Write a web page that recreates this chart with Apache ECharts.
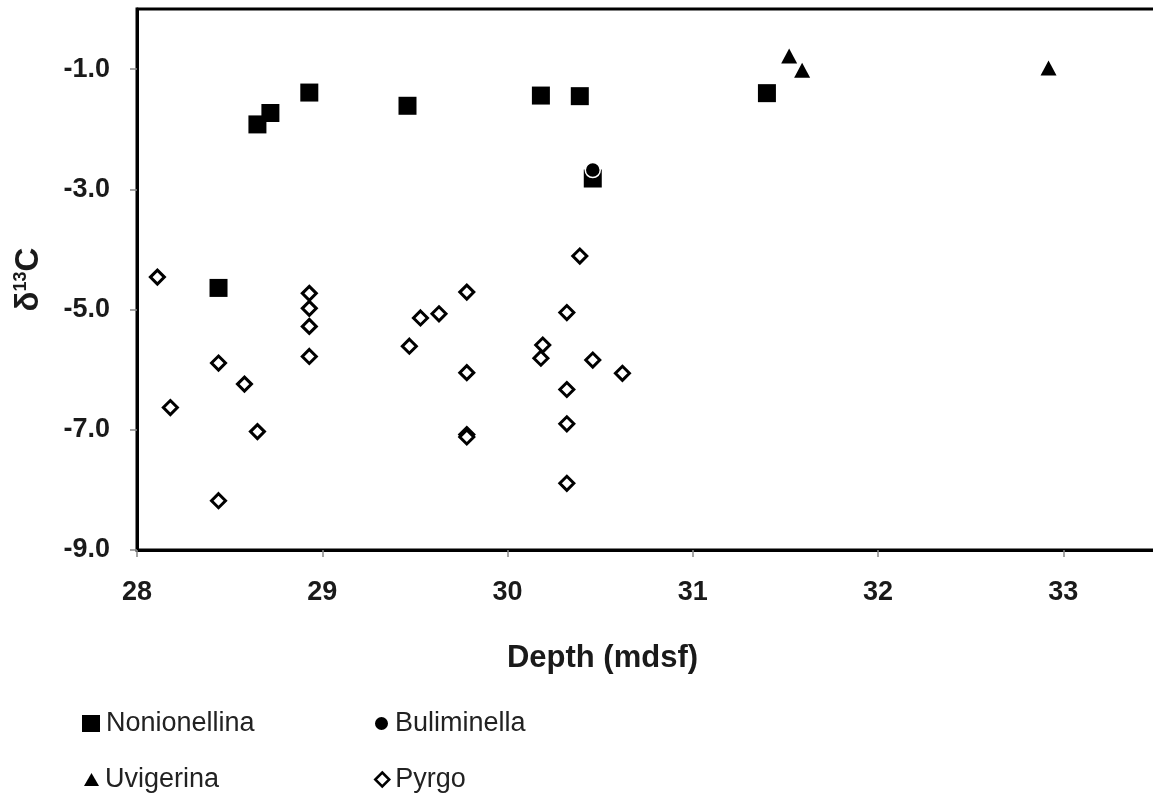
<!DOCTYPE html>
<html><head><meta charset="utf-8">
<script src="https://cdn.jsdelivr.net/npm/echarts@6/dist/echarts.min.js"></script>
<style>html,body{margin:0;padding:0;background:#fff}#c{width:1153px;height:797px}</style>
</head><body><div id="c"></div>
<script>
const xTicks = [28, 29, 30, 31, 32, 33];
const yTicks = [-9, -7, -5, -3, -1];
const seriesNames = ['Nonionellina', 'Buliminella', 'Uvigerina', 'Pyrgo'];

const nonionellinaDepth = [28.44, 28.65, 28.72, 28.93, 29.46, 30.18, 30.39, 30.46, 31.40];
const nonionellinaD13C  = [-4.64, -1.92, -1.73, -1.39, -1.61, -1.44, -1.45, -2.82, -1.40];

const buliminellaDepth = [30.46];
const buliminellaD13C  = [-2.68];

const uvigerinaDepth = [31.52, 31.59, 32.92];
const uvigerinaD13C  = [-0.78, -1.02, -0.98];

const pyrgoDepth = [28.11, 28.18, 28.44, 28.58, 28.65, 28.44, 28.93, 28.93, 28.93, 28.93,
                    29.47, 29.53, 29.63, 29.78, 29.78, 29.78, 29.78, 30.18, 30.19, 30.32,
                    30.32, 30.32, 30.32, 30.39, 30.46, 30.62];
const pyrgoD13C  = [-4.46, -6.63, -5.89, -6.24, -7.03, -8.18, -4.73, -4.98, -5.28, -5.78,
                    -5.61, -5.14, -5.07, -4.71, -6.05, -7.08, -7.12, -5.81, -5.59, -5.05,
                    -6.33, -6.90, -7.89, -4.11, -5.84, -6.06];

function pairs(xs, ys) { return xs.map((x, i) => [x, ys[i]]); }

const FONT = '"Liberation Sans", Arial, sans-serif';
const TXT = '#1a1a1a';

const chart = echarts.init(document.getElementById('c'), null, { renderer: 'canvas' });

function legendBox(name, icon, left, top, w, h, style) {
  return {
    show: true, left: left, top: top, orient: 'horizontal', padding: 0,
    selectedMode: false, itemGap: 0, itemWidth: w, itemHeight: h,
    data: [{ name: name, icon: icon, itemStyle: style }],
    textStyle: { fontFamily: FONT, fontSize: 27, color: '#222', padding: [0, 0, 0, 1] }
  };
}

chart.setOption({
  animation: false,
  backgroundColor: '#fff',
  grid: {
    left: 137, top: 9, width: 1019, height: 541,
    show: true, borderColor: '#000', borderWidth: 3,
    containLabel: false, outerBoundsMode: 'none'
  },
  xAxis: {
    type: 'value', min: 28, max: 33.5,
    name: 'Depth (mdsf)', nameLocation: 'middle', nameGap: 93,
    nameTextStyle: { fontFamily: FONT, fontSize: 31, fontWeight: 'bold', color: TXT, padding: [0, 88, 0, 0] },
    axisLine: { show: true, onZero: false, lineStyle: { color: '#000', width: 3 } },
    axisTick: { show: true, length: 7, customValues: xTicks, lineStyle: { color: '#888', width: 1.5 } },
    axisLabel: { customValues: xTicks, margin: 29, fontFamily: FONT, fontSize: 27, fontWeight: 'bold', color: TXT },
    splitLine: { show: false }
  },
  yAxis: {
    type: 'value', min: -9, max: 0,
    name: '{a|δ}{b|13}{a|C}', nameLocation: 'middle', nameGap: 92, nameRotate: 90,
    nameTextStyle: {
      color: TXT,
      rich: {
        a: { fontFamily: FONT, fontSize: 33, fontWeight: 'bold', color: TXT },
        b: { fontFamily: FONT, fontSize: 18, fontWeight: 'bold', color: TXT, verticalAlign: 'top' }
      }
    },
    axisLine: { show: true, onZero: false, lineStyle: { color: '#000', width: 3 } },
    axisTick: { show: true, length: 7, customValues: yTicks, lineStyle: { color: '#888', width: 1.5 } },
    axisLabel: {
      customValues: yTicks, margin: 27, fontFamily: FONT, fontSize: 27, fontWeight: 'bold', color: TXT,
      formatter: v => Number(v).toFixed(1)
    },
    splitLine: { show: false }
  },
  legend: [
    legendBox(seriesNames[0], 'rect', 82, 710, 18, 17, { color: '#000' }),
    legendBox(seriesNames[1], 'circle', 373, 710, 15, 15, { color: '#000' }),
    legendBox(seriesNames[2], 'triangle', 84, 766, 15, 13, { color: '#000' }),
    legendBox(seriesNames[3], 'diamond', 374, 766, 14, 14, { color: '#fff', borderColor: '#000', borderWidth: 2.5 })
  ],
  series: [
    {
      name: seriesNames[3], type: 'scatter', symbol: 'diamond', symbolSize: 14,
      itemStyle: { color: '#fff', borderColor: '#000', borderWidth: 3, opacity: 1 },
      data: pairs(pyrgoDepth, pyrgoD13C), z: 2
    },
    {
      name: seriesNames[0], type: 'scatter', symbol: 'rect', symbolSize: 18,
      itemStyle: { color: '#000', opacity: 1 },
      data: pairs(nonionellinaDepth, nonionellinaD13C), z: 3
    },
    {
      name: seriesNames[1], type: 'scatter', symbol: 'circle', symbolSize: 15,
      itemStyle: { color: '#000', borderColor: '#fff', borderWidth: 1.5, opacity: 1 },
      data: pairs(buliminellaDepth, buliminellaD13C), z: 4
    },
    {
      name: seriesNames[2], type: 'scatter', symbol: 'triangle', symbolSize: [16, 15],
      itemStyle: { color: '#000', opacity: 1 },
      data: pairs(uvigerinaDepth, uvigerinaD13C), z: 4
    }
  ]
});
</script>
</body></html>
